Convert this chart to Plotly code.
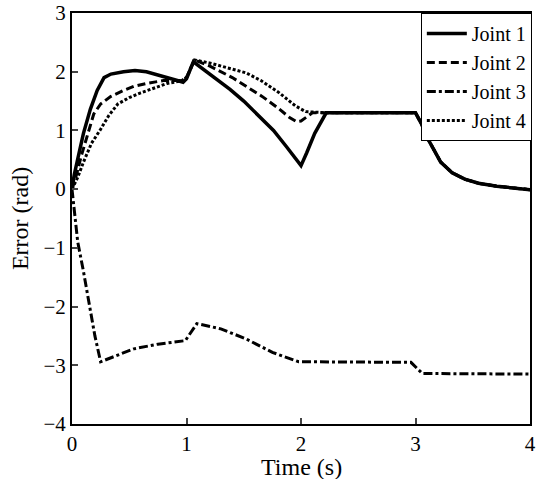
import plotly.graph_objects as go

# Joint 1 (solid)
t1 = [0, 0.02, 0.06, 0.10, 0.16, 0.22, 0.28, 0.34, 0.45, 0.55, 0.65, 0.75, 0.85, 0.92, 0.97, 1.00, 1.06,
      1.20, 1.38, 1.50, 1.64, 1.76, 1.87, 1.95, 2.00, 2.05, 2.12, 2.22, 2.50, 2.80, 3.00, 3.05, 3.11,
      3.22, 3.32, 3.43, 3.55, 3.71, 3.85, 4.00]
y1 = [0, 0.25, 0.60, 0.95, 1.36, 1.68, 1.90, 1.96, 2.00, 2.02, 2.00, 1.95, 1.90, 1.85, 1.82, 1.88, 2.17,
      1.97, 1.70, 1.50, 1.24, 1.00, 0.73, 0.52, 0.40, 0.62, 0.95, 1.30, 1.30, 1.30, 1.30, 1.12, 0.85,
      0.46, 0.28, 0.17, 0.10, 0.05, 0.02, -0.01]

# Joint 2 (dashed)
t2 = [0, 0.04, 0.08, 0.14, 0.19, 0.25, 0.34, 0.45, 0.54, 0.65, 0.80, 0.95, 1.00, 1.07, 1.20, 1.40,
      1.66, 1.80, 1.90, 1.96, 2.00, 2.10, 2.22, 2.50, 2.80, 3.00, 3.05, 3.11, 3.22, 3.32, 3.43, 3.55,
      3.71, 3.85, 4.00]
y2 = [0, 0.25, 0.56, 0.95, 1.28, 1.45, 1.58, 1.68, 1.75, 1.80, 1.85, 1.85, 1.90, 2.20, 2.10, 1.90,
      1.58, 1.38, 1.22, 1.15, 1.16, 1.30, 1.30, 1.30, 1.30, 1.30, 1.12, 0.85, 0.46, 0.28, 0.17, 0.10,
      0.05, 0.02, -0.01]

# Joint 3 (dash-dot)
t3 = [0, 0.02, 0.05, 0.10, 0.14, 0.20, 0.25, 0.35, 0.54, 0.75, 0.99, 1.09, 1.30, 1.52, 1.75, 1.98,
      2.50, 2.96, 3.06, 3.50, 4.00]
y3 = [0, -0.40, -0.90, -1.40, -1.82, -2.50, -2.94, -2.86, -2.72, -2.64, -2.58, -2.29, -2.38, -2.55,
      -2.78, -2.94, -2.95, -2.95, -3.14, -3.15, -3.15]

# Joint 4 (dotted)
t4 = [0, 0.05, 0.10, 0.17, 0.25, 0.32, 0.40, 0.50, 0.60, 0.72, 0.83, 0.95, 1.00, 1.07, 1.20, 1.35,
      1.52, 1.65, 1.81, 1.95, 2.04, 2.22, 2.50, 2.80, 3.00, 3.05, 3.11, 3.22, 3.32, 3.43, 3.55, 3.71,
      3.85, 4.00]
y4 = [0, 0.20, 0.46, 0.78, 1.02, 1.25, 1.45, 1.56, 1.64, 1.73, 1.80, 1.84, 1.90, 2.20, 2.15, 2.07,
      1.98, 1.85, 1.64, 1.42, 1.32, 1.30, 1.30, 1.30, 1.30, 1.12, 0.85, 0.46, 0.28, 0.17, 0.10, 0.05,
      0.02, -0.01]

x_ticks = [0, 1, 2, 3, 4]
y_ticks = [-4, -3, -2, -1, 0, 1, 2, 3]
y_tick_text = ["\u22124", "\u22123", "\u22122", "\u22121", "0", "1", "2", "3"]
x_title = "Time (s)"
y_title = "Error (rad)"

FONT = "Liberation Serif, Times New Roman, serif"

fig = go.Figure()
fig.add_trace(go.Scatter(x=t4, y=y4, mode="lines", name="Joint 4",
                         line=dict(color="black", width=3, dash="3px,2px")))
fig.add_trace(go.Scatter(x=t3, y=y3, mode="lines", name="Joint 3",
                         line=dict(color="black", width=3, dash="9px,3px,3px,3px")))
fig.add_trace(go.Scatter(x=t2, y=y2, mode="lines", name="Joint 2",
                         line=dict(color="black", width=3, dash="8px,4px")))
fig.add_trace(go.Scatter(x=t1, y=y1, mode="lines", name="Joint 1",
                         line=dict(color="black", width=3.5)))

fig.update_layout(
    width=538, height=479,
    margin=dict(l=72, r=6, t=13, b=55),
    paper_bgcolor="white", plot_bgcolor="white",
    font=dict(family=FONT, size=21, color="black"),
    legend=dict(x=1.004, y=1, xanchor="right", yanchor="top", traceorder="reversed",
                bordercolor="black", borderwidth=1, bgcolor="white",
                font=dict(family=FONT, size=20), itemwidth=40),
    showlegend=True,
    annotations=[dict(text=x_title, xref="paper", yref="paper", x=0.5, y=-0.104,
                      xanchor="center", yanchor="middle", showarrow=False,
                      font=dict(family=FONT, size=24))],
)
fig.update_xaxes(range=[0, 4], tickvals=x_ticks, ticks="inside", ticklen=6, tickwidth=1.5,
                 showline=True, linewidth=2, linecolor="black", mirror=True, showgrid=False,
                 zeroline=False, automargin=False, tickfont=dict(size=21))
fig.update_yaxes(range=[-4, 3], tickvals=y_ticks, ticktext=y_tick_text, ticks="inside", ticklen=6,
                 tickwidth=1.5, showline=True, linewidth=2, linecolor="black", mirror=True,
                 showgrid=False, zeroline=False,
                 title=dict(text=y_title, standoff=8, font=dict(family=FONT, size=24)),
                 automargin=False, tickfont=dict(size=21))

post = ("document.body.style.margin='0';document.body.style.padding='0';"
        "document.body.style.overflow='hidden';"
        "document.documentElement.style.overflow='hidden';")
fig.write_html("out.html", post_script=post, config={"displayModeBar": False})
